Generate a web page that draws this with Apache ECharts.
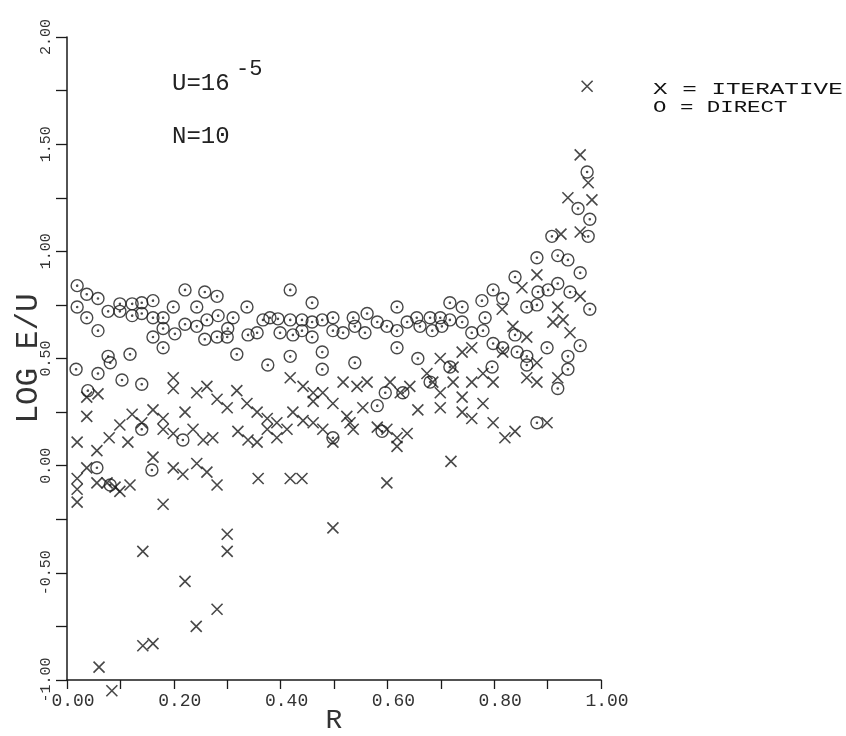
<!DOCTYPE html>
<html>
<head>
<meta charset="utf-8">
<title>LOG E/U vs R</title>
<script src="https://cdn.jsdelivr.net/npm/echarts@6/dist/echarts.min.js"></script>
<style>
  html, body { margin: 0; padding: 0; background: #fff; }
  #chart { width: 846px; height: 736px; }
</style>
</head>
<body>
<div id="chart"></div>
<script>
// tick labels
var xTickLabels = ['0.00', '0.20', '0.40', '0.60', '0.80', '1.00'];
var yTickLabels = ['-1.00', '-0.50', '0.00', '0.50', '1.00', '1.50', '2.00'];

// X = ITERATIVE  [R, LOG E/U]
var iterativePoints = [
  [0.199,0.41],[0.199,0.36],[0.037,0.32],[0.058,0.335],[0.037,0.23],[0.019,0.11],[0.056,0.07],
  [0.079,0.13],[0.099,0.19],[0.122,0.24],[0.140,0.20],[0.161,0.26],[0.180,0.22],[0.221,0.25],
  [0.236,0.17],[0.180,0.17],[0.199,0.15],[0.243,0.34],[0.262,0.37],[0.281,0.31],[0.300,0.27],
  [0.318,0.35],[0.337,0.29],[0.356,0.25],[0.375,0.22],[0.393,0.20],[0.418,0.41],[0.255,0.12],
  [0.273,0.13],[0.320,0.16],[0.339,0.12],[0.356,0.11],[0.375,0.17],[0.393,0.13],[0.412,0.17],
  [0.114,0.11],[0.161,0.04],[0.037,-0.01],[0.199,-0.01],[0.243,0.01],
  [0.358,-0.06],[0.418,-0.06],[0.440,-0.06],
  [0.019,-0.06],[0.019,-0.11],[0.019,-0.17],[0.056,-0.08],[0.075,-0.08],[0.090,-0.10],
  [0.099,-0.12],[0.118,-0.09],[0.180,-0.18],[0.217,-0.04],[0.262,-0.03],[0.281,-0.09],
  [0.300,-0.32],[0.300,-0.40],[0.142,-0.40],[0.221,-0.54],[0.281,-0.67],[0.242,-0.75],
  [0.142,-0.84],[0.161,-0.83],[0.060,-0.94],[0.084,-1.05],[0.599,-0.08],[0.498,-0.29],[0.719,0.02],
  [0.442,0.37],[0.461,0.34],[0.479,0.34],[0.461,0.30],[0.498,0.29],[0.517,0.39],[0.543,0.37],
  [0.562,0.39],[0.605,0.39],[0.624,0.34],[0.642,0.37],[0.423,0.25],[0.442,0.21],[0.461,0.20],
  [0.479,0.17],[0.498,0.11],[0.524,0.23],[0.536,0.17],[0.554,0.27],[0.581,0.18],[0.599,0.17],
  [0.618,0.13],[0.637,0.15],[0.618,0.09],[0.530,0.20],[0.657,0.26],[0.674,0.43],[0.685,0.39],
  [0.699,0.50],[0.740,0.53],[0.758,0.55],[0.723,0.46],[0.699,0.34],[0.723,0.39],[0.758,0.39],
  [0.779,0.43],[0.798,0.39],[0.699,0.27],[0.740,0.32],[0.740,0.25],[0.758,0.22],[0.779,0.29],
  [0.798,0.20],[0.820,0.13],[0.839,0.16],
  [0.852,0.83],[0.880,0.89],[0.919,0.74],[0.961,0.79],[0.815,0.73],[0.835,0.65],[0.861,0.60],
  [0.910,0.67],[0.929,0.68],[0.942,0.62],[0.816,0.53],[0.880,0.48],[0.861,0.41],[0.880,0.39],
  [0.919,0.41],[0.899,0.20],
  [0.974,1.77],[0.961,1.45],[0.976,1.32],[0.938,1.25],[0.983,1.24],[0.925,1.08],[0.961,1.09]
];

// O = DIRECT  [R, LOG E/U]
var directPoints = [
  [0.019,0.84],[0.037,0.80],[0.058,0.78],[0.019,0.74],[0.037,0.69],[0.058,0.63],
  [0.077,0.72],[0.099,0.755],[0.122,0.755],[0.140,0.76],[0.161,0.77],[0.099,0.72],[0.122,0.70],
  [0.140,0.71],[0.161,0.69],[0.180,0.69],[0.199,0.74],[0.221,0.82],[0.243,0.74],[0.258,0.81],
  [0.281,0.79],[0.161,0.60],[0.180,0.55],[0.180,0.64],[0.202,0.615],[0.221,0.66],[0.243,0.65],
  [0.262,0.68],[0.283,0.70],[0.258,0.59],[0.281,0.60],[0.300,0.60],[0.301,0.64],[0.311,0.69],
  [0.337,0.74],[0.339,0.61],[0.356,0.62],[0.367,0.68],[0.380,0.69],[0.395,0.685],[0.399,0.62],
  [0.418,0.82],[0.418,0.68],[0.423,0.61],
  [0.077,0.51],[0.081,0.48],[0.118,0.52],[0.017,0.45],[0.058,0.43],[0.103,0.40],[0.140,0.38],
  [0.318,0.52],[0.376,0.47],[0.418,0.51],[0.217,0.12],[0.140,0.17],[0.056,-0.01],[0.159,-0.02],
  [0.039,0.35],[0.081,-0.09],
  [0.459,0.76],[0.618,0.74],[0.717,0.76],[0.740,0.74],[0.777,0.77],[0.798,0.82],[0.816,0.78],
  [0.839,0.88],[0.880,0.97],[0.919,0.98],[0.938,0.96],[0.961,0.90],[0.908,1.07],[0.976,1.07],
  [0.882,0.81],[0.901,0.82],[0.919,0.85],[0.942,0.81],[0.979,0.73],[0.861,0.74],[0.880,0.75],
  [0.440,0.68],[0.459,0.67],[0.440,0.63],[0.459,0.60],[0.478,0.68],[0.498,0.69],[0.498,0.63],
  [0.517,0.62],[0.536,0.69],[0.539,0.65],[0.558,0.62],[0.562,0.71],[0.581,0.67],[0.599,0.65],
  [0.618,0.63],[0.637,0.67],[0.655,0.69],[0.661,0.65],[0.680,0.69],[0.684,0.63],[0.699,0.69],
  [0.702,0.65],[0.717,0.68],[0.740,0.67],[0.758,0.62],[0.779,0.63],[0.783,0.69],
  [0.618,0.55],[0.798,0.57],[0.839,0.61],[0.816,0.55],[0.843,0.53],[0.861,0.47],[0.861,0.51],
  [0.899,0.55],[0.961,0.56],[0.938,0.51],[0.938,0.45],[0.919,0.36],
  [0.478,0.53],[0.478,0.45],[0.539,0.48],[0.657,0.50],[0.717,0.46],[0.796,0.46],[0.596,0.34],
  [0.629,0.34],[0.581,0.28],[0.498,0.13],[0.590,0.16],[0.880,0.20],[0.680,0.39],
  [0.974,1.37],[0.957,1.20],[0.979,1.15]
];

var ink = '#1a1a1a';
var crossPath = 'path://M0,0L10,10M10,0L0,10';
var circleDotPath = 'path://M0,6A6,6 0 1 1 12,6A6,6 0 1 1 0,6ZM5.4,6A0.6,0.6 0 1 1 6.6,6A0.6,0.6 0 1 1 5.4,6Z';

var chart = echarts.init(document.getElementById('chart'));

chart.setOption({
    animation: false,
    backgroundColor: '#fff',
    grid: { left: 67, right: 245, top: 37, bottom: 56, containLabel: false, outerBoundsMode: 'none' },
    xAxis: {
        type: 'value',
        min: 0, max: 1, interval: 0.1,
        name: 'R',
        nameLocation: 'middle',
        nameGap: 27,
        nameMoveOverlap: false,
        nameTextStyle: { fontFamily: 'Liberation Mono', fontSize: 28, color: '#333' },
        axisLine: { show: true, onZero: false, lineStyle: { color: ink, width: 1.5 } },
        axisTick: { show: true, inside: false, length: 9, lineStyle: { color: ink, width: 1.3 } },
        axisLabel: {
            margin: 12,
            padding: [0, 0, 0, 12],
            fontFamily: 'Liberation Mono', fontSize: 18, color: '#333',
            formatter: function (v) {
                var i = Math.round(v * 10);
                return i % 2 === 0 ? xTickLabels[i / 2] : '';
            }
        },
        splitLine: { show: false }
    },
    yAxis: {
        type: 'value',
        min: -1, max: 2, interval: 0.25,
        name: 'LOG E/U',
        nameLocation: 'middle',
        nameRotate: 90,
        nameGap: 23,
        nameMoveOverlap: false,
        nameTextStyle: { fontFamily: 'Liberation Mono', fontSize: 31, color: '#333' },
        axisLine: { show: true, onZero: false, lineStyle: { color: ink, width: 1.5 } },
        axisTick: { show: true, inside: false, length: 11, lineStyle: { color: ink, width: 1.3 } },
        axisLabel: {
            margin: 13,
            rotate: 90,
            fontFamily: 'Liberation Mono', fontSize: 15, color: '#333',
            formatter: function (v) {
                var i = Math.round((v + 1) * 4);
                return i % 2 === 0 ? yTickLabels[i / 2] : '';
            }
        },
        splitLine: { show: false }
    },
    series: [
        {
            name: 'ITERATIVE',
            type: 'scatter',
            data: iterativePoints,
            symbol: crossPath,
            symbolSize: 11,
            clip: false,
            itemStyle: { color: 'rgba(0,0,0,0)', borderColor: ink, borderWidth: 1.6 },
            emphasis: { disabled: true }
        },
        {
            name: 'DIRECT',
            type: 'scatter',
            data: directPoints,
            symbol: circleDotPath,
            symbolSize: 12,
            clip: false,
            itemStyle: { color: 'rgba(0,0,0,0)', borderColor: ink, borderWidth: 1.4 },
            emphasis: { disabled: true }
        }
    ],
    graphic: [
        { type: 'text', x: 172, y: 72, style: { text: 'U=16', font: '24px "Liberation Mono"', fill: '#222', verticalAlign: 'top' } },
        { type: 'text', x: 236, y: 58, style: { text: '-5', font: '22px "Liberation Mono"', fill: '#222', verticalAlign: 'top' } },
        { type: 'text', x: 172, y: 125, style: { text: 'N=10', font: '24px "Liberation Mono"', fill: '#222', verticalAlign: 'top' } },
        { type: 'text', x: 653, y: 82, scaleX: 1.52, style: { text: 'X = ITERATIVE', font: '16px "Liberation Mono"', fill: '#111', verticalAlign: 'top' } },
        { type: 'text', x: 653, y: 100, scaleX: 1.40, style: { text: 'O = DIRECT', font: '16px "Liberation Mono"', fill: '#111', verticalAlign: 'top' } }
    ]
});
</script>
</body>
</html>
